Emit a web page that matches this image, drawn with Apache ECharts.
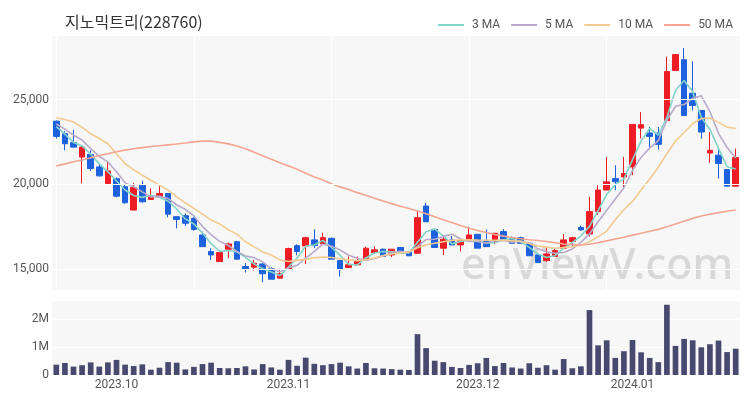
<!DOCTYPE html>
<html><head><meta charset="utf-8">
<script src="https://cdn.jsdelivr.net/npm/echarts@6/dist/echarts.min.js"></script>
<style>html,body{margin:0;padding:0;background:#fff}#c{width:750px;height:400px}</style>
</head><body><div id="c"></div>
<script>
const title = '지노믹트리(228760)';
const dates = [
'2023.09.19','2023.09.20','2023.09.21','2023.09.22','2023.09.25','2023.09.26','2023.09.27',
'2023.10.02','2023.10.04','2023.10.05','2023.10.06','2023.10.10','2023.10.11','2023.10.12','2023.10.13','2023.10.16','2023.10.17','2023.10.18','2023.10.19','2023.10.20','2023.10.23','2023.10.24','2023.10.25','2023.10.26','2023.10.27','2023.10.30','2023.10.31',
'2023.11.01','2023.11.02','2023.11.03','2023.11.06','2023.11.07','2023.11.08','2023.11.09','2023.11.10','2023.11.13','2023.11.14','2023.11.15','2023.11.16','2023.11.17','2023.11.20','2023.11.21','2023.11.22','2023.11.23','2023.11.24','2023.11.27','2023.11.28','2023.11.29','2023.11.30',
'2023.12.04','2023.12.05','2023.12.06','2023.12.07','2023.12.08','2023.12.11','2023.12.12','2023.12.13','2023.12.14','2023.12.15','2023.12.18','2023.12.19','2023.12.20','2023.12.21','2023.12.22','2023.12.26','2023.12.27','2023.12.28',
'2024.01.02','2024.01.03','2024.01.04','2024.01.05','2024.01.08','2024.01.09','2024.01.10','2024.01.11','2024.01.12','2024.01.15','2024.01.16','2024.01.17','2024.01.18'
];
const opens = [23720,22980,22450,21600,21760,21020,20040,20320,19850,18470,19940,19100,19250,19450,18080,18140,17980,17000,16020,15430,
16160,16600,15140,15100,15290,15000,14450,14980,16370,16350,16710,16470,16800,15490,15080,15240,15530,15960,16160,15820,
16260,16020,15920,18710,17330,16220,16710,16410,16670,17040,16610,16610,17200,16840,16840,16510,15820,15490,15730,16220,
16610,17450,17060,18380,19650,20330,20430,21020,23310,23020,23020,23760,26710,27350,25370,24350,21840,21710,20860,19880];
const closes = [22820,22390,22190,22190,20920,20490,20780,19290,18900,19800,18960,19290,19450,18230,17920,17690,17330,16310,15820,15960,
16470,15570,14980,15330,14710,14390,14710,16200,16020,16840,16370,16840,15570,14980,15240,15470,16220,16120,15730,16160,
15920,15770,18020,17780,16260,16750,16410,16670,17000,16220,16310,17100,16750,16510,16510,15770,15370,15880,16080,16710,
16840,17300,18380,19650,20140,20140,20630,23530,23510,22820,22350,26650,27650,24060,24650,23080,22000,21220,19880,21570];
const lows = [22690,22000,22150,20040,20780,20450,20040,19220,18850,18470,18900,19100,19250,18040,17390,17530,17250,16310,15530,15430,
15630,15570,14780,14900,14200,14390,14450,14980,15800,15280,16220,16470,15570,14550,15080,15240,15530,15900,15730,15700,
15920,15770,15920,17780,16260,15820,16410,16020,16670,16220,16310,16450,16750,16510,16510,15770,15370,15400,15730,16220,
16300,17250,16900,18180,19650,19650,19840,20530,22690,22160,22040,23760,26710,24060,24350,22690,21260,20330,19880,19880];
const highs = [23760,23130,23220,22240,22000,21180,21350,20400,20000,20080,20200,19750,19920,19450,18100,18270,18050,17200,16220,16020,
16550,16650,15330,15530,15350,15100,15000,16250,16450,16900,17330,17140,16850,15490,15730,15730,16300,16330,16200,16160,
16260,16050,18430,18900,17330,16900,16940,16670,17490,17040,17330,17100,17350,16900,16900,16510,15850,16310,16200,17060,
16900,17550,19260,19940,21610,21120,21610,23530,24260,23370,23370,27530,27650,28040,27260,24350,23080,22100,20900,22100];
const volumes = [370000,430000,300000,350000,450000,300000,450000,540000,370000,320000,380000,190000,260000,460000,440000,200000,290000,390000,440000,250000,
240000,250000,310000,200000,390000,270000,190000,540000,330000,620000,400000,350000,390000,440000,310000,230000,430000,240000,230000,210000,
190000,180000,1460000,960000,510000,460000,290000,250000,360000,420000,610000,320000,430000,270000,230000,420000,260000,350000,190000,570000,
240000,310000,2320000,1060000,1240000,610000,850000,1250000,810000,610000,460000,2510000,1040000,1290000,1240000,990000,1100000,1230000,820000,940000];
const ma3 = [23400,22950,22467,22257,21767,21200,20730,20187,19657,19330,19220,19350,19233,18990,18533,17947,17647,17110,16487,16030,
16083,16000,15673,15293,15007,14810,14603,15100,15643,16353,16410,16683,16260,15797,15263,15230,15643,15937,16023,16003,
15937,15950,16570,17190,17353,16930,16473,16610,16693,16630,16510,16543,16720,16787,16590,16263,15883,15673,15777,16223,
16543,16950,17507,18443,19390,19977,20303,21433,22557,23287,22893,23940,25550,26120,25453,23930,23243,22100,21033,20890];
const ma5 = [23550,23250,22900,22600,22102,21636,21314,20734,20076,19852,19546,19248,19280,19146,18770,18516,18124,17496,17014,16622,
16378,16026,15760,15662,15412,14996,14824,15068,15206,15632,16028,16454,16328,16120,15800,15620,15496,15606,15756,15940,
16030,15940,16320,16730,16750,16916,17044,16774,16618,16610,16522,16660,16676,16578,16636,16528,16182,16008,15922,15962,
16176,16562,17062,17776,18462,19122,19788,20818,21590,22126,22568,23772,24596,24706,25072,25218,24288,23002,22166,21550];
const ma10 = [23920,23820,23670,23350,22980,22700,22390,21800,21220,20850,20530,20230,19940,19650,19250,18900,18570,18230,17880,17650,
17300,17050,16600,16300,16000,15820,15530,15430,15500,15560,15650,15700,15670,15600,15530,15480,15530,15640,15780,15880,
15940,16000,16250,16420,16510,16600,16680,16710,16720,16700,16690,16690,16680,16660,16620,16500,16350,16280,16220,16260,
16300,16400,16600,16900,17230,17900,18500,18980,19650,20300,21000,21800,22550,23050,23580,23880,23900,23650,23370,23290];
const ma50 = [21080,21200,21320,21430,21560,21690,21800,21910,22010,22090,22160,22220,22270,22320,22370,22430,22500,22550,22540,22470,
22380,22250,22090,21890,21680,21470,21260,21070,20880,20650,20430,20240,20030,19840,19680,19500,19350,19170,19000,18850,
18700,18560,18420,18250,18080,17900,17730,17560,17400,17260,17140,17030,16930,16850,16780,16720,16670,16610,16540,16470,
16430,16410,16450,16540,16650,16760,16870,16990,17100,17220,17330,17480,17650,17810,17980,18120,18220,18320,18400,18470];
const priceGridLines = [15000, 20000, 25000];
const legendNames = ['3 MA', '5 MA', '10 MA', '50 MA'];

const candleData = dates.map((d, i) => [opens[i], closes[i], lows[i], highs[i]]);
const chart = echarts.init(document.getElementById('c'));
const labelFont = {fontSize: 12, color: '#555', fontFamily: 'Roboto, sans-serif'};
chart.setOption({
  animation: false,
  backgroundColor: '#fff',
  title: {text: title, left: 60, top: 9, textStyle: {fontSize: 16, fontWeight: 'normal', color: '#333', fontFamily: '"Noto Sans CJK KR", sans-serif'}},
  legend: {data: legendNames, right: 12, top: 14, icon: 'rect', itemWidth: 26, itemHeight: 2, itemGap: 11,
    textStyle: {fontSize: 12, color: '#555', fontFamily: 'Roboto, sans-serif', padding: [0, 0, 0, 3]}},
  graphic: [{type: 'text', left: 461, top: 245, z: 1, silent: true,
    style: {text: 'enViewV.com', fontSize: 43, fontWeight: 500, fill: '#d8d8d8', fontFamily: '"Noto Sans", sans-serif'}}],
  grid: [
    {left: 52, right: 10, top: 36, height: 254, show: true, backgroundColor: '#f7f7f7', borderWidth: 0},
    {left: 52, right: 10, top: 300, height: 75, show: true, backgroundColor: '#f7f7f7', borderWidth: 0}
  ],
  xAxis: [
    {type: 'category', data: dates, gridIndex: 0, axisLine: {show: false}, axisTick: {show: false}, axisLabel: {show: false},
      splitLine: {show: true, interval: 15, alignWithLabel: true, lineStyle: {color: '#ffffff', width: 1}}},
    {type: 'category', data: dates, gridIndex: 1, axisLine: {show: false}, axisTick: {show: false},
      axisLabel: Object.assign({margin: 4, interval: (i) => i > 0 && dates[i].slice(0, 7) !== dates[i - 1].slice(0, 7),
        formatter: (v) => v.slice(0, 7)}, labelFont), splitLine: {show: false}}
  ],
  yAxis: [
    {type: 'value', gridIndex: 0, min: 13750, max: 28750, interval: 1250, axisLine: {show: false}, axisTick: {show: false},
      splitLine: {show: false},
      axisLabel: Object.assign({margin: 3, formatter: (v) => (v % 5000 === 0 ? v.toLocaleString('en-US') : '')}, labelFont)},
    {type: 'value', gridIndex: 1, min: 0, max: 2680000, interval: 1000000, axisLine: {show: false}, axisTick: {show: false},
      splitLine: {show: true, lineStyle: {color: '#ffffff', width: 1}},
      axisLabel: Object.assign({margin: 3, showMaxLabel: false, formatter: (v) => (v === 0 ? '0' : (v % 1000000 === 0 ? (v / 1000000) + 'M' : ''))}, labelFont)}
  ],
  series: [
    {type: 'line', name: 'grid', xAxisIndex: 0, yAxisIndex: 0, data: dates.map(() => null), z: 1, silent: true,
      markLine: {silent: true, symbol: 'none', label: {show: false}, animation: false,
        lineStyle: {color: '#ffffff', type: 'solid', width: 1}, data: priceGridLines.map(v => ({yAxis: v}))}},
    {type: 'candlestick', name: 'price', xAxisIndex: 0, yAxisIndex: 0, data: candleData, barWidth: '70%',
      itemStyle: {color: '#ee1d25', color0: '#1d61dc', borderColor: '#ee1d25', borderColor0: '#1d61dc', borderWidth: 1}},
    {type: 'line', name: '3 MA', data: ma3, xAxisIndex: 0, yAxisIndex: 0, showSymbol: false, color: '#84d3c8', lineStyle: {width: 1.6}},
    {type: 'line', name: '5 MA', data: ma5, xAxisIndex: 0, yAxisIndex: 0, showSymbol: false, color: '#b8aacb', lineStyle: {width: 1.6}},
    {type: 'line', name: '10 MA', data: ma10, xAxisIndex: 0, yAxisIndex: 0, showSymbol: false, color: '#f2ca92', lineStyle: {width: 1.6}},
    {type: 'line', name: '50 MA', data: ma50, xAxisIndex: 0, yAxisIndex: 0, showSymbol: false, color: '#f5a591', lineStyle: {width: 1.6}},
    {type: 'bar', name: 'volume', data: volumes, xAxisIndex: 1, yAxisIndex: 1, barWidth: '66%', itemStyle: {color: '#474a6e'}}
  ]
});
</script></body></html>
